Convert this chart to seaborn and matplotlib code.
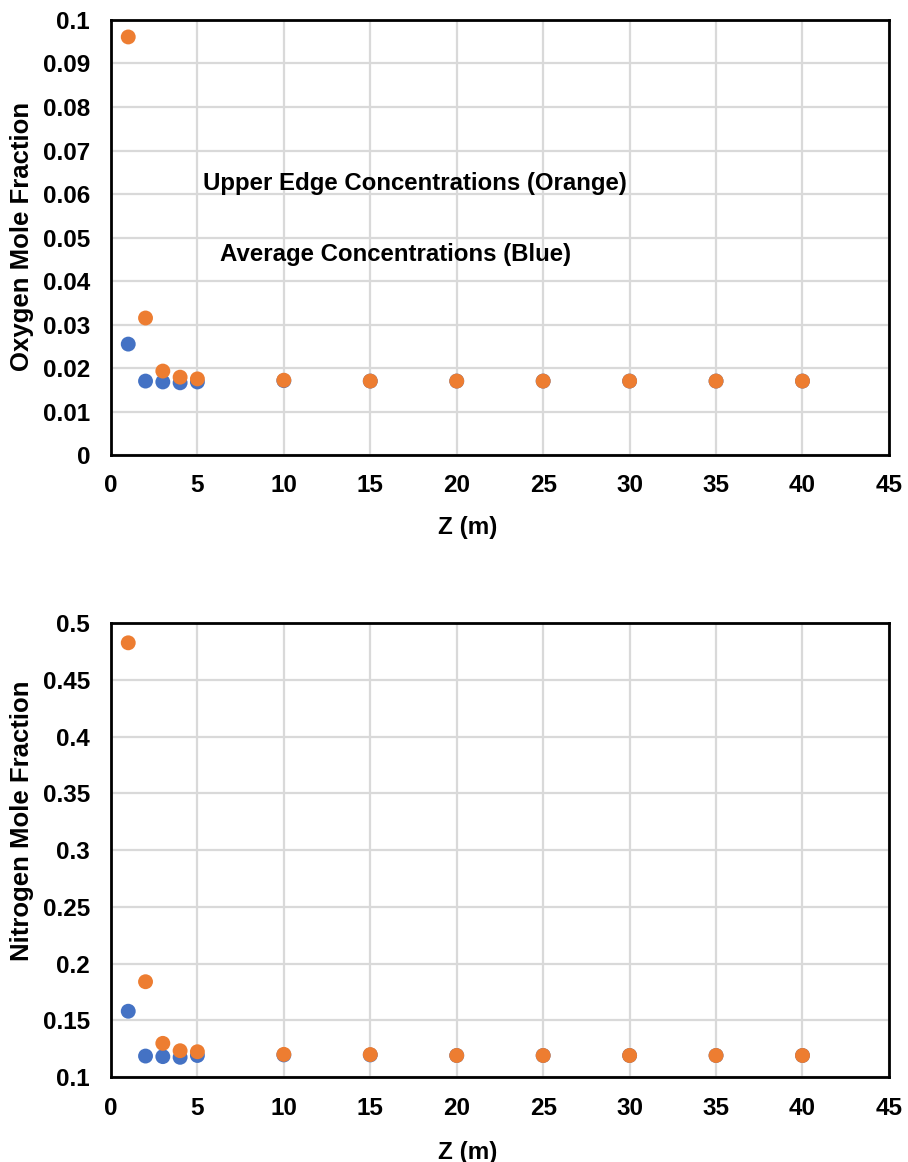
import matplotlib
matplotlib.use("Agg")
import matplotlib.pyplot as plt
import seaborn as sns
import pandas as pd

z = [1, 2, 3, 4, 5, 10, 15, 20, 25, 30, 35, 40]
o2_avg = [0.0255, 0.0170, 0.0168, 0.0166, 0.0168, 0.0171, 0.0170, 0.0170, 0.0170, 0.0170, 0.0170, 0.0170]
o2_edge = [0.0961, 0.0315, 0.0193, 0.0179, 0.0175, 0.0172, 0.0170, 0.0170, 0.0170, 0.0170, 0.0170, 0.0170]
n2_avg = [0.158, 0.1185, 0.118, 0.1174, 0.119, 0.1195, 0.1195, 0.119, 0.119, 0.119, 0.119, 0.119]
n2_edge = [0.4826, 0.184, 0.1297, 0.1232, 0.1223, 0.1200, 0.1198, 0.119, 0.119, 0.119, 0.119, 0.119]

series_names = ["Average", "Upper Edge"]
colors = {"Average": "#4472C4", "Upper Edge": "#ED7D31"}

x_ticks = [0, 5, 10, 15, 20, 25, 30, 35, 40, 45]
o2_ticks = [0, 0.01, 0.02, 0.03, 0.04, 0.05, 0.06, 0.07, 0.08, 0.09, 0.1]
o2_ticklabels = ["0", "0.01", "0.02", "0.03", "0.04", "0.05", "0.06", "0.07", "0.08", "0.09", "0.1"]
n2_ticks = [0.1, 0.15, 0.2, 0.25, 0.3, 0.35, 0.4, 0.45, 0.5]
n2_ticklabels = ["0.1", "0.15", "0.2", "0.25", "0.3", "0.35", "0.4", "0.45", "0.5"]

def long_df(avg, edge):
    return pd.DataFrame({
        "Z": z + z,
        "val": avg + edge,
        "series": [series_names[0]] * len(z) + [series_names[1]] * len(z),
    })

sns.set_theme(style="whitegrid")
plt.rcParams['font.family'] = ['Liberation Sans', 'DejaVu Sans']
plt.rcParams['font.weight'] = 'bold'

fig = plt.figure(figsize=(9.08, 11.62), dpi=100)
ax1 = fig.add_axes([0.1222, 0.6084, 0.8568, 0.3744])
ax2 = fig.add_axes([0.1222, 0.0731, 0.8568, 0.3907])

def style(ax, df, yticks, yticklabels, ylim, ylabel, ylab_y):
    sns.scatterplot(data=df, x="Z", y="val", hue="series", palette=colors,
                    s=115, linewidth=0, ax=ax, legend=False, zorder=3, clip_on=False)
    ax.set_xlim(0, 45)
    ax.set_ylim(*ylim)
    ax.set_xticks(x_ticks)
    ax.set_xticklabels([str(t) for t in x_ticks], fontsize=17.5, fontweight='bold')
    ax.set_yticks(yticks)
    ax.set_yticklabels(yticklabels, fontsize=17.5, fontweight='bold')
    ax.grid(True, color='#d9d9d9', linewidth=1.6)
    for sp in ax.spines.values():
        sp.set_color('black')
        sp.set_linewidth(2)
        sp.set_visible(True)
    ax.tick_params(axis='x', length=0, pad=14, colors='black')
    ax.tick_params(axis='y', length=0, pad=15, colors='black')
    ax.set_xlabel("Z (m)", fontsize=17.5, fontweight='bold', color='black')
    ax.xaxis.set_label_coords(0.458, -0.14)
    ax.set_ylabel(ylabel, fontsize=18.5, fontweight='bold', color='black')
    ax.yaxis.set_label_coords(-0.099, ylab_y)
    ax.set_facecolor('white')

style(ax1, long_df(o2_avg, o2_edge), o2_ticks, o2_ticklabels, (0, 0.1), "Oxygen Mole Fraction", 0.503)
style(ax2, long_df(n2_avg, n2_edge), n2_ticks, n2_ticklabels, (0.1, 0.5), "Nitrogen Mole Fraction", 0.564)

ax1.text(5.32, 0.0625, "Upper Edge Concentrations (Orange)", fontsize=17.3, fontweight='bold',
         color='black', va='center', ha='left')
ax1.text(6.3, 0.046, "Average Concentrations (Blue)", fontsize=17.3, fontweight='bold',
         color='black', va='center', ha='left')

fig.savefig("out.png", dpi=100, facecolor='white')
